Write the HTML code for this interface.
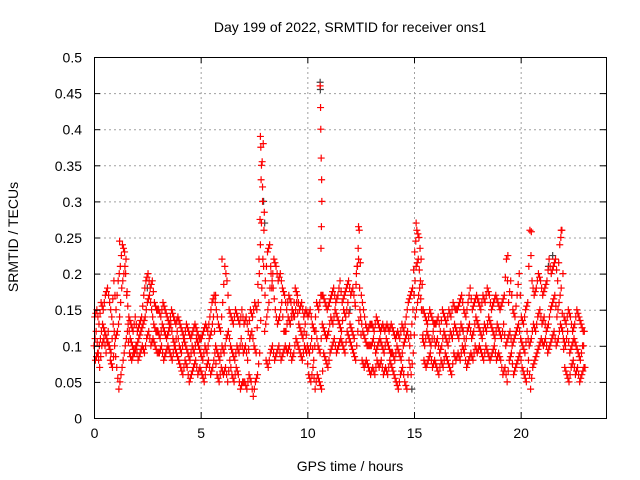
<!DOCTYPE html>
<html><head><meta charset="utf-8"><style>
body{margin:0;background:#fff}
svg{display:block;font-family:"Liberation Sans",sans-serif}
</style></head><body>
<svg id="chart" width="640" height="480">
<text x="350" y="32" text-anchor="middle" font-size="14">Day 199 of 2022, SRMTID for receiver ons1</text>
<text x="350" y="471" text-anchor="middle" font-size="14">GPS time / hours</text>
<text transform="translate(18,237) rotate(-90)" text-anchor="middle" font-size="14">SRMTID / TECUs</text>
<g id="grid"></g><g id="marks"></g><g id="axes"></g>
</svg>
<script>
const xTicks=[0,5,10,15,20];
const yTicks=[0,0.05,0.1,0.15,0.2,0.25,0.3,0.35,0.4,0.45,0.5];
const yTickLabels=["0","0.05","0.1","0.15","0.2","0.25","0.3","0.35","0.4","0.45","0.5"];
const trackA=[10,12,9,11,13,12,11,10,9,13,11,12,14,18,20,22,13,11,10,9,10,11,12,13,14,16,17,15,13,12,12,11,13,12,11,12,13,11,10,12,10,9,11,10,9,8,10,9,11,10,9,8,10,9,11,12,14,10,9,8,10,9,11,12,10,9,8,10,9,11,9,10,8,11,12,10,9,16,24,30,12,14,16,20,18,15,13,14,16,12,12,14,13,15,14,16,13,12,11,13,10,9,11,8,12,10,9,13,12,11,12,14,13,15,14,13,12,15,14,16,13,12,11,20,22,14,12,11,10,10,10,11,9,10,11,10,9,11,10,9,9,8,10,9,8,10,11,12,10,13,17,21,22,19,11,10,12,11,10,12,10,11,9,10,12,11,10,12,11,13,12,11,13,12,10,12,13,11,12,14,13,12,11,13,12,14,13,12,11,13,12,11,13,10,11,12,10,11,12,13,11,10,9,12,10,11,13,12,14,15,13,14,12,13,15,16,17,14,16,18,11,10,12,9,10,11,10,9,8,10];
const trackB=[14,15,13,16,15,17,18,16,14,19,15,19,21,24,23,17,14,13,12,14,12,13,14,17,19,20,18,19,16,15,15,14,16,15,14,13,15,14,13,14,13,12,11,13,12,11,12,13,12,11,11,12,13,12,14,16,17,15,13,12,16,21,19,15,14,13,15,14,13,15,13,14,12,15,14,16,15,22,33,38,19,23,24,18,22,21,19,20,18,17,15,17,16,14,18,17,15,16,14,15,14,15,13,12,16,15,17,17,16,15,16,17,18,16,17,19,16,17,18,19,17,18,16,21,26,17,15,13,12,13,13,12,14,13,12,13,12,13,12,13,12,11,12,11,13,12,14,16,17,18,23,26,25,22,15,14,13,15,14,13,13,14,12,15,14,13,15,14,16,15,15,16,17,15,14,16,18,15,16,17,16,15,17,16,18,17,15,16,17,16,15,16,17,22,16,19,15,14,17,20,14,13,15,16,26,19,17,18,20,19,17,18,19,22,20,21,22,19,24,26,14,13,15,14,12,13,15,14,13,12];
const trackC=[8,9,7,10,11,9,12,8,7,10,7,4,6,8,10,12,9,8,9,10,8,9,10,9,11,12,10,11,10,9,9,10,8,9,10,9,8,10,9,8,7,6,8,7,5,6,7,8,6,7,6,5,7,8,6,7,9,6,5,7,6,7,5,8,6,5,7,6,4,5,5,4,6,5,3,5,6,9,18,26,8,7,9,10,8,9,10,8,9,10,9,10,8,9,11,10,9,8,10,9,6,5,7,4,6,5,4,9,8,7,9,10,11,9,10,11,10,9,12,11,10,9,8,12,15,8,7,8,7,6,7,6,8,7,8,6,7,6,8,7,6,5,4,6,7,5,4,8,6,9,14,16,18,15,8,7,8,9,7,8,7,6,8,7,9,8,7,6,9,8,9,8,10,9,7,8,9,8,10,9,10,9,8,10,9,8,9,10,8,9,8,6,7,5,8,9,6,7,8,9,7,6,5,8,4,7,8,9,10,11,10,11,9,10,11,12,10,11,13,12,7,6,5,7,8,6,7,5,6,7];
const spikeTimes=[7.8,7.82,7.85,7.9,10.6,10.62,10.63,10.65,10.67,10.68,10.66,10.64,1.2,12.4,15.1,19.4,20.5,21.9,5.7,6.0];
const spikeValues=[0.39,0.375,0.35,0.32,0.46,0.43,0.40,0.36,0.33,0.30,0.265,0.235,0.245,0.265,0.27,0.225,0.258,0.26,0.17,0.22];
const grayTimes=[7.95,8.0,10.6,10.61,21.5,21.3,14.9,2.5,17.3,12.0,9.2];
const grayValues=[0.30,0.27,0.465,0.455,0.225,0.21,0.04,0.18,0.12,0.15,0.13];

const X0=94,X1=606,Y0=418,Y1=57,XMAX=24,YMAX=0.5;
const sx=t=>X0+(X1-X0)*t/XMAX;
const sy=v=>Y0-(Y0-Y1)*v/YMAX;
const NS="http://www.w3.org/2000/svg";
const grid=document.getElementById('grid'),marks=document.getElementById('marks'),axes=document.getElementById('axes');
function mk(tag,attrs,parent){const e=document.createElementNS(NS,tag);for(const k in attrs)e.setAttribute(k,attrs[k]);parent.appendChild(e);return e;}
xTicks.forEach(t=>{
  const x=sx(t)+0.5;
  if(t>0){const g=mk('line',{x1:x,x2:x,y1:Y1,y2:Y0,stroke:'#a0a0a0','stroke-dasharray':'2,3'},grid);
  
  }
  mk('line',{x1:x,x2:x,y1:Y0,y2:Y0-6,stroke:'#000'},axes);
  mk('line',{x1:x,x2:x,y1:Y1,y2:Y1+6,stroke:'#000'},axes);
  const l=mk('text',{x:x,y:Y0+20,'text-anchor':'middle','font-size':'14'},axes);
  l.textContent=t;
  
  
});
yTicks.forEach((v,i)=>{
  const y=sy(v)+0.5;
  if(v>0&&v<YMAX){const g=mk('line',{x1:X0,x2:X1,y1:y,y2:y,stroke:'#a0a0a0','stroke-dasharray':'2,3'},grid);
  
  }
  mk('line',{x1:X0,x2:X0+6,y1:y,y2:y,stroke:'#000'},axes);
  mk('line',{x1:X1,x2:X1-6,y1:y,y2:y,stroke:'#000'},axes);
  const l=mk('text',{x:X0-12,y:y+5,'text-anchor':'end','font-size':'14'},axes);
  l.textContent=yTickLabels[i];
  
  
});
const fr=mk('rect',{x:X0+0.5,y:Y1+0.5,width:X1-X0,height:Y0-Y1,fill:'none',stroke:'#000'},axes);


function cross(t,v,color){
  const x=sx(t),y=sy(v);
  const p=mk('path',{d:`M${x-3.5},${y}H${x+3.5}M${x},${y-3.5}V${y+3.5}`,stroke:color,'stroke-width':1.2,fill:'none'},marks);
  
  
}
grayTimes.forEach((t,i)=>cross(t,grayValues[i],'#404040'));
[[trackA,0],[trackB,0.033],[trackC,0.066]].forEach(([arr,off])=>{
  arr.forEach((v,i)=>{cross(i*0.1+off,v/100,'#ff0000');cross(i*0.1+off+0.05,(v+(arr[i+1]!==undefined?arr[i+1]:v))/200,'#ff0000');});
});
spikeTimes.forEach((t,i)=>cross(t,spikeValues[i],'#ff0000'));
</script>
</body></html>
